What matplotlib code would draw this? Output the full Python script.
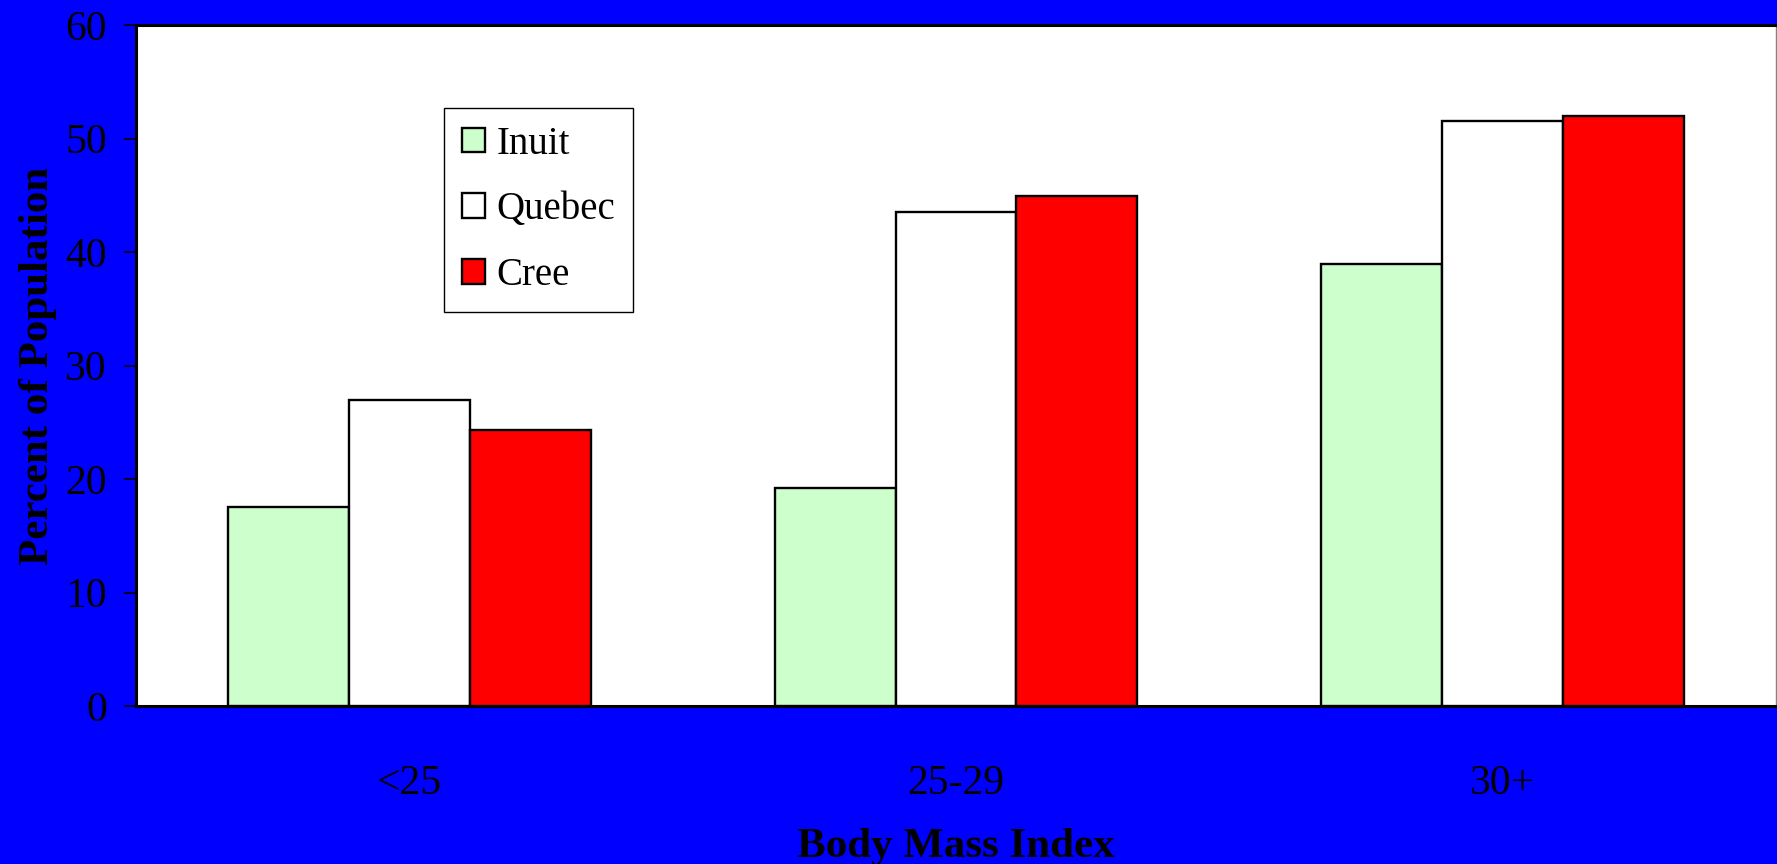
import matplotlib.pyplot as plt
import numpy as np

# values (percent of population)
categories = ["<25", "25-29", "30+"]
groups = ["Inuit", "Quebec", "Cree"]
inuit = [17.5, 19.2, 38.9]
quebec = [27.0, 43.5, 51.5]
cree = [24.3, 44.9, 52.0]
colors = ["#CCFFCC", "#FFFFFF", "#FF0000"]

plt.rcParams['font.family'] = ['Liberation Serif', 'DejaVu Serif']

fig = plt.figure(figsize=(17.77, 8.64), dpi=100)
fig.patch.set_facecolor("#0000FF")
ax = fig.add_axes([136/1777, (864-706)/864, 1640/1777, 681/864])
ax.set_facecolor("white")

x = np.arange(len(categories))
w = 0.221
for i, (vals, name) in enumerate(zip([inuit, quebec, cree], groups)):
    ax.bar(x + (i - 1) * w, vals, w, color=colors[i], edgecolor="black",
           linewidth=1.7, label=name, zorder=3)

ax.set_xlim(-0.5, 2.5)
ax.set_ylim(0, 60)
ax.set_yticks(range(0, 61, 10))
ax.set_xticks(x)
ax.set_xticklabels(categories)
ax.tick_params(axis="y", direction="out", length=9, width=1.2, pad=12, labelsize=30)
ax.tick_params(axis="x", length=0, pad=42, labelsize=30)

for s in ["left", "bottom", "top"]:
    ax.spines[s].set_linewidth(2.2)
    ax.spines[s].set_color("black")
ax.spines["right"].set_linewidth(1)
ax.spines["right"].set_color("#808080")

ax.set_xlabel("Body Mass Index", fontsize=31, fontweight="bold", labelpad=18)
ax.set_ylabel("Percent of Population", fontsize=31, fontweight="bold", labelpad=6)

leg = ax.legend(loc="upper left", bbox_to_anchor=(0.188, 0.878), fontsize=28,
                handlelength=0.6, handleheight=0.6, handletextpad=0.3,
                labelspacing=0.74, borderpad=0.45, borderaxespad=0,
                fancybox=False, framealpha=1, edgecolor="black")
leg.get_frame().set_linewidth(1)

plt.savefig("out.png", dpi=100, facecolor=fig.get_facecolor())
